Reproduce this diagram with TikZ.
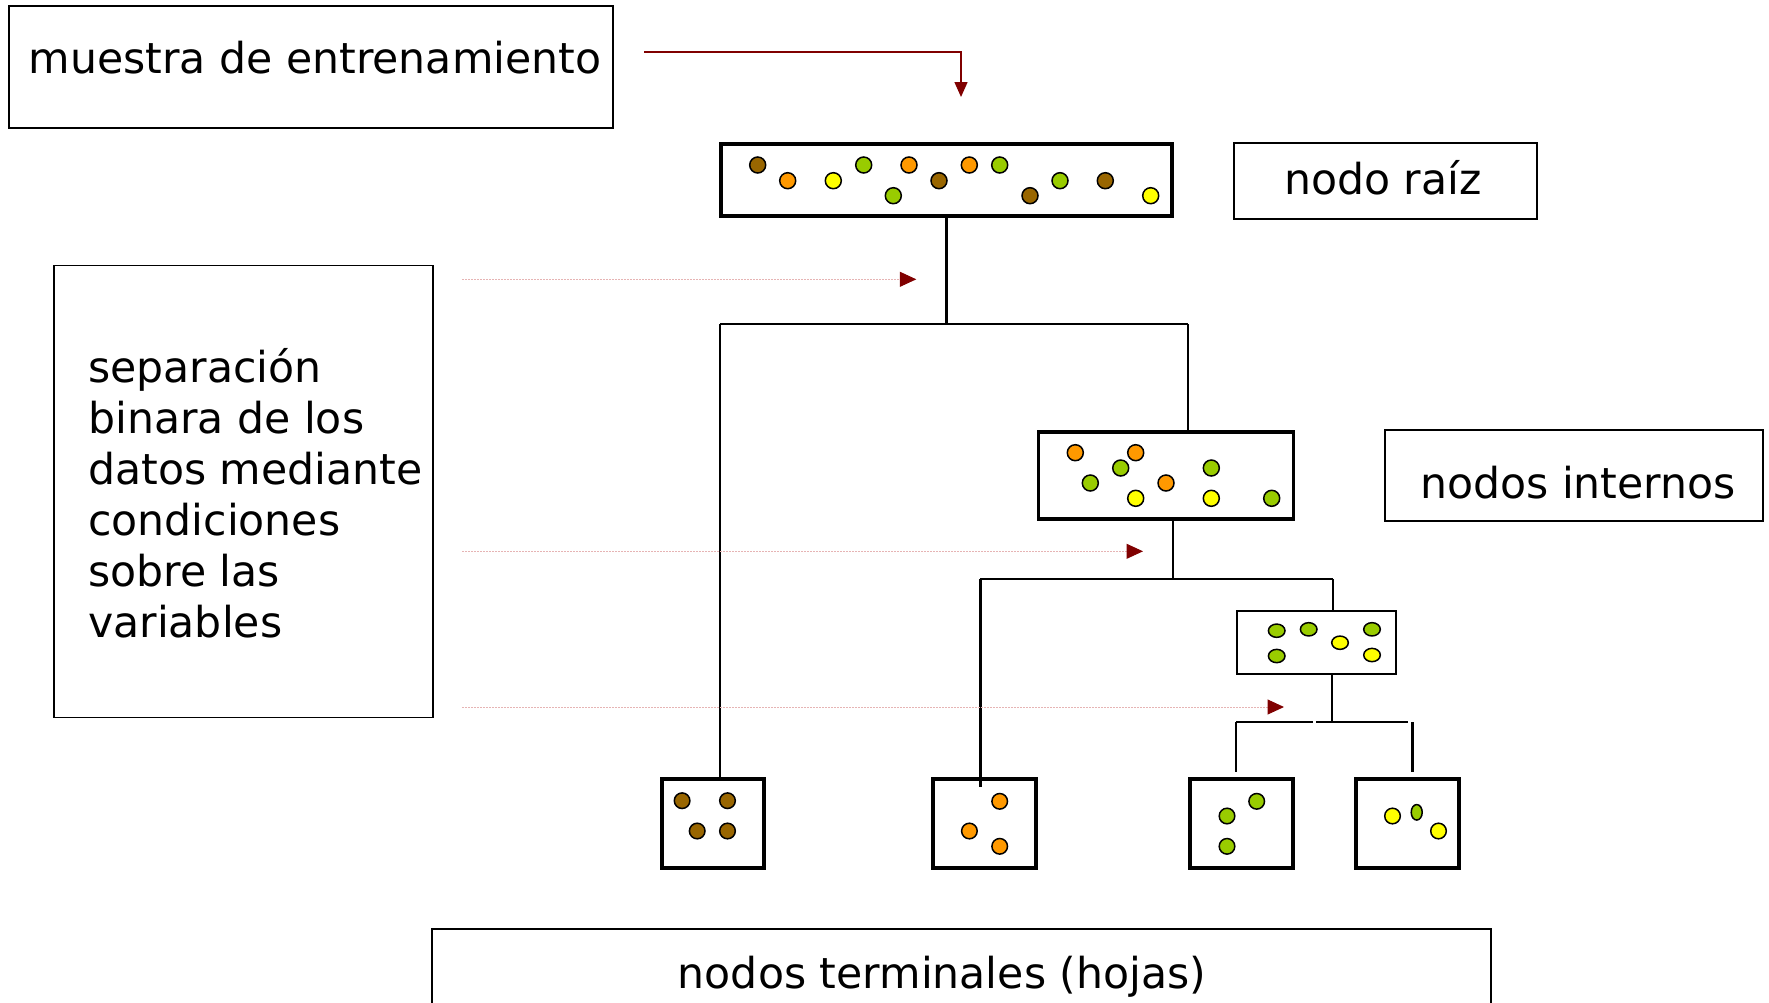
\documentclass[tikz,border=0pt]{standalone}
\usepackage{fontspec}
\setmainfont{DejaVu Sans}
\usetikzlibrary{arrows.meta,shapes.geometric}
\definecolor{brownc}{HTML}{996600}
\definecolor{orangec}{HTML}{FF9900}
\definecolor{yellowc}{HTML}{FFFF00}
\definecolor{greenc}{HTML}{99CC00}
\definecolor{darkredc}{HTML}{800000}
\definecolor{pinkc}{HTML}{E6B4B4}
\tikzset{
  tbox/.style={draw, line width=1.6pt, inner sep=0pt, rectangle},
  dbox/.style={draw, line width=3.8pt, inner sep=0pt, rectangle},
  sbox/.style={draw, line width=2pt, inner sep=0pt, rectangle},
  lbl/.style={inner sep=0pt, font=\fontsize{42.6}{51.1}\selectfont},
  tree/.style={line width=2.2pt},
  dot/.style={circle, draw, line width=1.5pt, inner sep=0pt, minimum size=16pt},
  edot/.style={ellipse, draw, line width=1.5pt, inner sep=0pt, minimum width=16.6pt, minimum height=13.3pt},
  redarrow/.style={draw=darkredc, line width=1.5pt, -{Triangle[length=15pt,width=13pt]}},
  splitarrow/.style={draw=pinkc, line width=1pt, dash pattern=on 2pt off 1pt,
     -{Triangle[length=16.5pt,width=15pt,color=darkredc]}},
}
\begin{document}
\begin{tikzpicture}[x=1pt,y=-1pt]
\useasboundingbox (0,0) rectangle (1769,1002);
% text boxes
\node[tbox, minimum width=604pt, minimum height=122pt] (mbox) at (311,67) {};
\node[lbl, anchor=base] (mtext) at (315,73.3) {muestra de entrenamiento};
\node[tbox, minimum width=303pt, minimum height=76pt] (rbox) at (1385.5,181) {};
\node[lbl, anchor=base] (rtext) at (1383,194.3) {nodo raíz};
\node[tbox, minimum width=379pt, minimum height=452pt] (sepbox) at (243.5,491.3) {};
\node[lbl, anchor=base west, align=left] (septext) at (88,637.7)
  {separación\\binara de los\\datos mediante\\condiciones\\sobre las\\variables};
\node[tbox, minimum width=378pt, minimum height=91pt] (ibox) at (1574,475.5) {};
\node[lbl, anchor=base] (itext) at (1578,498) {nodos internos};
\node[tbox, minimum width=1059pt, minimum height=130pt] (tbox) at (961.5,994) {};
\node[lbl, anchor=base] (ttext) at (942,988) {nodos terminales (hojas)};

% data boxes
\node[dbox, minimum width=451pt, minimum height=72pt] (root) at (946.5,180) {};
\node[dbox, minimum width=255pt, minimum height=87pt] (int) at (1166,475.5) {};
\node[sbox, minimum width=159pt, minimum height=63pt] (small) at (1316.3,642.8) {};
\node[dbox, minimum width=102pt, minimum height=89pt] (leafa) at (712.6,823.8) {};
\node[dbox, minimum width=103pt, minimum height=89pt] (leafb) at (984.8,823.8) {};
\node[dbox, minimum width=103pt, minimum height=89pt] (leafc) at (1241.6,823.8) {};
\node[dbox, minimum width=103pt, minimum height=89pt] (leafd) at (1407.7,823.8) {};

% dots root
\foreach \x/\y/\c [count=\i] in {757.7/165/brownc, 787.7/180.7/orangec, 833.3/180.7/yellowc,
  863.7/165/greenc, 893.3/195.7/greenc, 909/165/orangec, 939/180.7/brownc, 969.3/165/orangec,
  999.7/165/greenc, 1030/195.7/brownc, 1060/180.7/greenc, 1105.3/180.7/brownc, 1150.7/195.7/yellowc}
  \node[dot, fill=\c] (r\i) at (\x,\y) {};
% dots internal
\foreach \x/\y/\c [count=\i] in {1075.3/452.7/orangec, 1135.7/452.7/orangec, 1120.7/468/greenc,
  1211.3/468/greenc, 1090.3/483/greenc, 1166/483/orangec, 1135.7/498.3/yellowc,
  1211.3/498.3/yellowc, 1271.7/498.3/greenc}
  \node[dot, fill=\c] (n\i) at (\x,\y) {};
% dots small
\foreach \x/\y/\c [count=\i] in {1276.7/630.7/greenc, 1308.7/629.3/greenc, 1340/642.7/yellowc,
  1372/629.3/greenc, 1276.7/656/greenc, 1372/655/yellowc}
  \node[edot, fill=\c] (s\i) at (\x,\y) {};
% dots leaves
\foreach \x/\y/\c [count=\i] in {682.1/800.7/brownc, 727.5/800.7/brownc, 697.2/831/brownc, 727.5/831/brownc,
  999.7/801.3/orangec, 969.4/831/orangec, 999.7/846.3/orangec,
  1256.7/801.3/greenc, 1227/816/greenc, 1227/846.3/greenc,
  1392.5/816/yellowc, 1438.5/831/yellowc}
  \node[dot, fill=\c, minimum size=15.6pt] (f\i) at (\x,\y) {};
\node[ellipse, draw, line width=1.5pt, inner sep=0pt, minimum width=11pt, minimum height=15.5pt, fill=greenc] (f13) at (1416.7,812.3) {};

% tree connectors
\coordinate (ja) at (720,324);
\coordinate (jb) at (1188,324);
\draw[tree] (root.south) -- (root.south |- ja);
\draw[tree] (ja) -- (jb);
\draw[tree] (ja) -- (ja |- leafa.north);
\draw[tree] (jb) -- (jb |- int.north);
\coordinate (jc) at (980.4,579);
\coordinate (jd) at (1333,579);
\coordinate (je) at (1173,579);
\draw[tree] (je |- int.south) -- (je);
\draw[tree] (jc) -- (jd);
\coordinate (jcend) at (980.4,787.3);
\draw[tree] (jc) -- (jcend);
\draw[tree] (jd) -- (jd |- small.north);
\coordinate (jf) at (1332.3,722);
\coordinate (jg) at (1236,722);
\coordinate (jh) at (1313,722);
\coordinate (ji) at (1316,722);
\coordinate (jj) at (1407.7,722);
\coordinate (jk) at (1412.5,722);
\coordinate (jgend) at (1236,771.7);
\coordinate (jkend) at (1412.5,771.7);
\draw[tree] (small.south -| jf) -- (jf);
\draw[tree] (jg) -- (jh);
\draw[tree] (ji) -- (jj);
\draw[tree] (jg) -- (jgend);
\draw[tree] (jk) -- (jkend);

% arrows
\coordinate (ma) at (644,52);
\coordinate (mb) at (961,97);
\draw[redarrow] (ma) -| (mb);
\coordinate (da1) at (462,279.3);
\coordinate (db1) at (916.3,279.3);
\coordinate (da2) at (462,551.3);
\coordinate (db2) at (1143,551.3);
\coordinate (da3) at (462,707);
\coordinate (db3) at (1284,707);
\draw[splitarrow] (da1) -- (db1);
\draw[splitarrow] (da2) -- (db2);
\draw[splitarrow] (da3) -- (db3);
\end{tikzpicture}
\end{document}
